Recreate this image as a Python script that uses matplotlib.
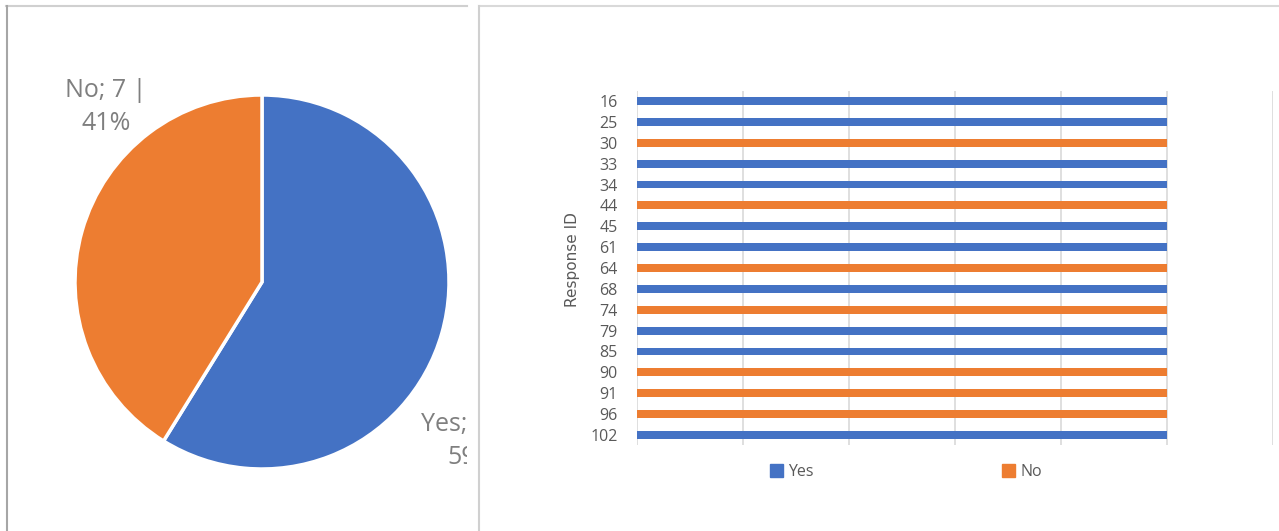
import matplotlib.pyplot as plt
from matplotlib.lines import Line2D
from matplotlib.patches import Patch

# survey answers per response
response_ids = ["16", "25", "30", "33", "34", "44", "45", "61", "64",
                "68", "74", "79", "85", "90", "91", "96", "102"]
answers = ["Yes", "Yes", "No", "Yes", "Yes", "No", "Yes", "Yes", "No",
           "Yes", "No", "Yes", "Yes", "No", "No", "No", "Yes"]

pie_labels = ["Yes", "No"]
pie_counts = [10, 7]

BLUE = "#4472C4"
ORANGE = "#ED7D31"
W, H = 1279, 531

plt.rcParams["font.family"] = ["Open Sans", "DejaVu Sans"]

fig = plt.figure(figsize=(W / 100, H / 100), dpi=100)


def fx(x):
    return x / W


def fy(y):
    return 1 - y / H


# panel borders
for (x0, y0, x1, y1, c) in [(6, 5.5, 467, 5.5, "#d0d0d0"),
                            (6.5, 5.5, 6.5, 531, "#a6a6a6"),
                            (478.5, 5.5, 1279, 5.5, "#d9d9d9"),
                            (478.5, 5.5, 478.5, 531, "#d0d0d0")]:
    fig.add_artist(Line2D([fx(x0), fx(x1)], [fy(y0), fy(y1)],
                          transform=fig.transFigure, color=c, lw=1.5))

# ---- pie panel (data units = pixels) ----
ax1 = fig.add_axes([fx(6), 0, fx(467) - fx(6), 1 - 6 / H])
cx, cy, r = 262, H - 282, 187
ax1.pie(pie_counts, colors=[BLUE, ORANGE], startangle=90, counterclock=False,
        center=(cx, cy), radius=r,
        wedgeprops=dict(edgecolor="white", linewidth=2.5))
ax1.set_aspect("auto")
ax1.set_xlim(6, 467)
ax1.set_ylim(0, H - 6)
ax1.axis("off")

total = sum(pie_counts)
label_pos = {"No": (106, H - 107), "Yes": (472, H - 441)}
for lab, cnt in zip(pie_labels, pie_counts):
    txt = f"{lab}; {cnt} |\n{round(100 * cnt / total)}%"
    ax1.text(*label_pos[lab], txt, ha="center", va="center", fontsize=18,
             color="#7f7f7f", linespacing=1.4, clip_on=True)

# ---- bar panel ----
left, right, top, bottom = 637, 1273, 90.6, 445.4
ax2 = fig.add_axes([fx(left), fy(bottom), fx(right) - fx(left), (bottom - top) / H])
pos = list(range(len(response_ids)))
yes_vals = [1 if a == "Yes" else 0 for a in answers]
no_vals = [1 if a == "No" else 0 for a in answers]
ax2.barh(pos, yes_vals, height=0.38, color=BLUE, zorder=3)
ax2.barh(pos, no_vals, left=yes_vals, height=0.38, color=ORANGE, zorder=3)

ax2.set_xlim(0, 1.2)
ax2.set_xticks([0, 0.2, 0.4, 0.6, 0.8, 1.0, 1.2])
ax2.set_xticklabels([])
ax2.tick_params(axis="x", length=0)
ax2.grid(axis="x", color="#d9d9d9", lw=1.2, zorder=0)
ax2.set_ylim(len(response_ids) - 0.5, -0.5)
ax2.set_yticks(pos)
ax2.set_yticklabels(response_ids, fontsize=11.5, color="#595959")
ax2.tick_params(axis="y", length=0, pad=14)
for s in ax2.spines.values():
    s.set_visible(False)

ax2.set_ylabel("Response ID", family=["Liberation Sans Narrow", "DejaVu Sans"],
               fontsize=11, color="#595959")
ax2.yaxis.set_label_coords(-0.0896, 0.524)

handles = [Patch(color=BLUE), Patch(color=ORANGE)]
fig.legend(handles, ["Yes", "No"], loc="center", ncol=2,
           bbox_to_anchor=(fx(906), fy(472)), frameon=False, fontsize=11.5,
           labelcolor="#595959", handlelength=0.8, handleheight=0.8,
           handletextpad=0.35, columnspacing=11.8)

fig.savefig("out.png", dpi=100)
